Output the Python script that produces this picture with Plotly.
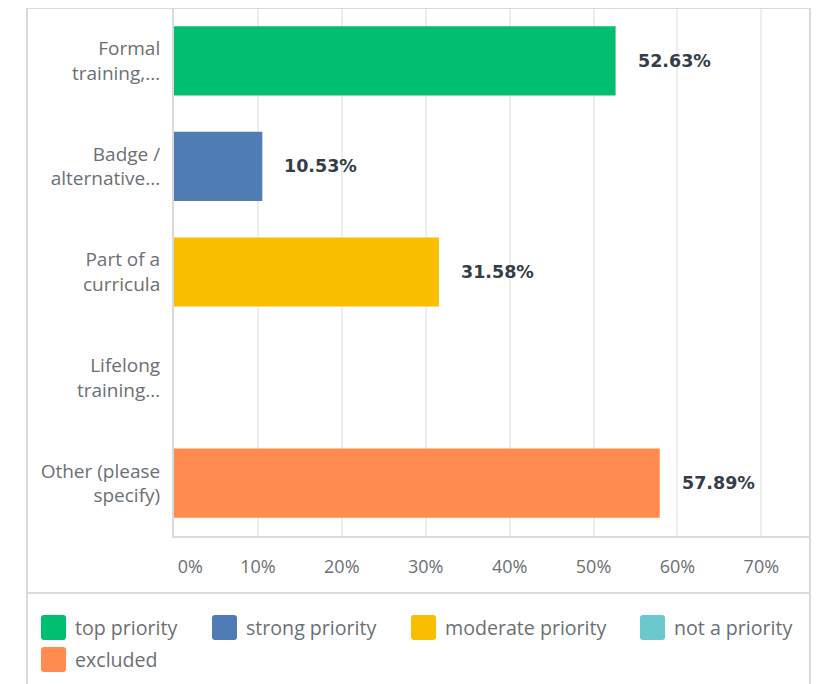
import plotly.graph_objects as go

# ---- data ----
categories = ["Formal<br>training,...", "Badge /<br>alternative...", "Part of a<br>curricula",
              "Lifelong<br>training...", "Other (please<br>specify)"]
values = [52.63, 10.53, 31.58, 0.0, 57.89]
series_names = ["top priority", "strong priority", "moderate priority", "not a priority", "excluded"]
series_colors = ["#00BF6F", "#507CB6", "#F9BE00", "#6BC8CD", "#FF8B4F"]
tick_vals = [0, 10, 20, 30, 40, 50, 60, 70]
tick_labels = ["\u00a0\u00a0\u00a0\u00a0\u00a0\u00a0\u00a00%", "10%", "20%", "30%", "40%", "50%", "60%", "70%"]

# ---- layout constants (page pixels; the page body has an 8px margin) ----
OFF = 8
W, H = 821 - OFF, 684 - OFF
PL, PR, PT, PB = 174, 810, 8, 536  # plot area edges in page pixels
FONT = "Open Sans"
GRAY_TXT = "#6B7075"
DARK_TXT = "#333E48"
BORDER = "#D9DADB"
GRID = "#EDEEEE"


def px(x):
    return (x - PL) / (PR - PL)


def py(y):
    return (PB - y) / (PB - PT)


fig = go.Figure()
fig.add_trace(go.Bar(
    x=values, y=categories, orientation="h",
    marker=dict(color=series_colors, line=dict(width=0)),
    showlegend=False, hoverinfo="skip",
))

annotations = []
for cat, v in zip(categories, values):
    if v > 0:
        annotations.append(dict(
            x=v, y=cat, xref="x", yref="y", text=f"{v:.2f}%", showarrow=False,
            xanchor="left", xshift=20,
            font=dict(family="DejaVu Sans", size=17.5, color=DARK_TXT, weight="bold"),
        ))

shapes = []
# outer frame
line_kw = dict(color=BORDER, width=2)
shapes.append(dict(type="line", xref="paper", yref="paper", x0=px(27), x1=px(810), y0=py(8), y1=py(8), line=line_kw))
shapes.append(dict(type="line", xref="paper", yref="paper", x0=px(27), x1=px(27), y0=py(8), y1=py(700), line=line_kw))
shapes.append(dict(type="line", xref="paper", yref="paper", x0=px(810), x1=px(810), y0=py(8), y1=py(700), line=line_kw))
shapes.append(dict(type="line", xref="paper", yref="paper", x0=px(27), x1=px(810), y0=py(593), y1=py(593), line=line_kw))

# legend (manual, larger rounded swatches)
legend_pos = [(41, 615), (212, 615), (411, 615), (640, 615), (41, 647)]
SW = 25
for name, col, (lx, ly) in zip(series_names, series_colors, legend_pos):
    x0, x1, y0, y1 = lx, lx + SW, ly, ly + SW
    r = 3
    path = (f"M {px(x0 + r)} {py(y0)} L {px(x1 - r)} {py(y0)} Q {px(x1)} {py(y0)} {px(x1)} {py(y0 + r)} "
            f"L {px(x1)} {py(y1 - r)} Q {px(x1)} {py(y1)} {px(x1 - r)} {py(y1)} "
            f"L {px(x0 + r)} {py(y1)} Q {px(x0)} {py(y1)} {px(x0)} {py(y1 - r)} "
            f"L {px(x0)} {py(y0 + r)} Q {px(x0)} {py(y0)} {px(x0 + r)} {py(y0)} Z")
    shapes.append(dict(type="path", xref="paper", yref="paper", path=path, fillcolor=col, line=dict(width=0)))
    annotations.append(dict(x=px(x1 + 7), y=py(ly + SW / 2), xref="paper", yref="paper", text=name,
                            showarrow=False, xanchor="left", yanchor="middle",
                            font=dict(family=FONT, size=19.6, color=GRAY_TXT)))

fig.update_layout(
    width=W, height=H,
    margin=dict(l=PL - OFF, r=W + OFF - PR, t=PT - OFF, b=H + OFF - PB, pad=0),
    paper_bgcolor="white", plot_bgcolor="white",
    bargap=0.345,
    font=dict(family=FONT, color=GRAY_TXT),
    xaxis=dict(range=[0, 75.8], tickvals=tick_vals, ticktext=tick_labels, showgrid=True, gridcolor=GRID,
               gridwidth=1.5, zeroline=False, showline=True, linecolor=BORDER, linewidth=2, ticks="",
               ticklabelstandoff=13, tickfont=dict(family=FONT, size=18, color=GRAY_TXT), fixedrange=True),
    yaxis=dict(categoryorder="array", categoryarray=categories, autorange="reversed", showgrid=False,
               zeroline=False, showline=True, linecolor=BORDER, linewidth=2, ticks="",
               ticklabelstandoff=8, tickfont=dict(family=FONT, size=19, color=GRAY_TXT), fixedrange=True),
    shapes=shapes, annotations=annotations,
)

fig.write_html("out.html")
